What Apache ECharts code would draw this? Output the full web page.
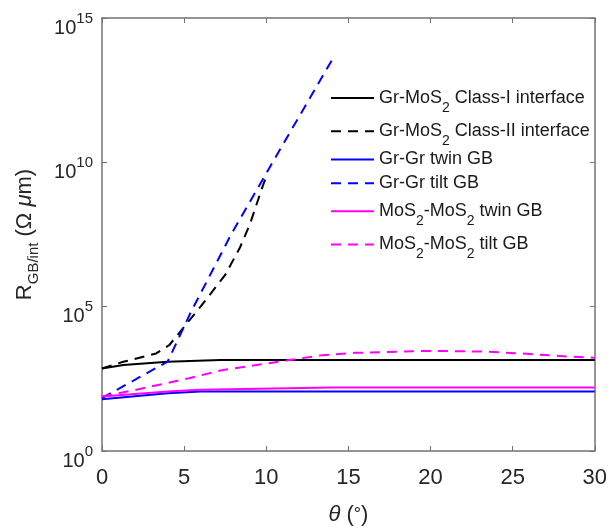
<!DOCTYPE html>
<html>
<head>
<meta charset="utf-8">
<script src="https://cdn.jsdelivr.net/npm/echarts@6/dist/echarts.min.js"></script>
<style>html,body{margin:0;background:#fff}#main{width:610px;height:531px}</style>
</head>
<body>
<div id="main"></div>
<script>
// angle (deg) and resistance (Ohm um)
const classIX = [0, 1.3, 4, 7.2, 30];
const classIY = [724, 955, 1230, 1410, 1410];
const classIIX = [0, 1.3, 3.3, 4.1, 6.0, 7.5, 8.4, 9.0, 9.8, 10];
const classIIY = [724, 1230, 2400, 4700, 1.0e5, 1.26e6, 1.12e7, 7.1e7, 1.6e9, 3.2e9];
const twinGrX = [0, 4, 6, 30];
const twinGrY = [62, 100, 115, 115];
const tiltGrX = [0, 4, 5.4, 7.9, 11.3, 14];
const tiltGrY = [68, 1260, 6.3e4, 3.5e7, 7.9e10, 3.5e13];
const twinMoX = [0, 4, 6, 14, 30];
const twinMoY = [78, 115, 132, 158, 158];
const tiltMoX = [0, 2, 5.3, 7.3, 9.4, 11.4, 13.4, 15.4, 19.4, 21.4, 23.5, 25.5, 28.5, 30];
const tiltMoY = [78, 129, 331, 631, 955, 1413, 2089, 2512, 2884, 2884, 2754, 2399, 1862, 1698];

const names = [
  "Gr-MoS2 Class-I interface",
  "Gr-MoS2 Class-II interface",
  "Gr-Gr twin GB",
  "Gr-Gr tilt GB",
  "MoS2-MoS2 twin GB",
  "MoS2-MoS2 tilt GB"
];
const legendText = [
  "{t|Gr-MoS}{s|2}{t| Class-I interface}",
  "{t|Gr-MoS}{s|2}{t| Class-II interface}",
  "{t|Gr-Gr twin GB}",
  "{t|Gr-Gr tilt GB}",
  "{t|MoS}{s|2}{t|-MoS}{s|2}{t| twin GB}",
  "{t|MoS}{s|2}{t|-MoS}{s|2}{t| tilt GB}"
];
const legendRowY = [100.7, 134, 162.3, 186, 214, 247.3];

const xs = [classIX, classIIX, twinGrX, tiltGrX, twinMoX, tiltMoX];
const ys = [classIY, classIIY, twinGrY, tiltGrY, twinMoY, tiltMoY];
const colors = ["#000000", "#000000", "#0000ff", "#0000ff", "#ff00ff", "#ff00ff"];
const dashed = [false, true, false, true, false, true];

const font = "Liberation Sans, Arial, Helvetica, sans-serif";
const axisColor = "#737373";
const textColor = "#262626";

const series = names.map((name, i) => ({
  name: name,
  type: "line",
  symbol: "none",
  lineStyle: { color: colors[i], width: 2, type: dashed[i] ? [10, 7] : "solid" },
  itemStyle: { color: colors[i] },
  data: xs[i].map((x, j) => [x, ys[i][j]])
}));

const legends = names.map((name, i) => ({
  data: [name],
  left: 330,
  top: legendRowY[i] - 14,
  padding: 0,
  itemWidth: 43,
  itemHeight: 28,
  itemStyle: { opacity: 0 },
  formatter: () => legendText[i],
  textStyle: {
    rich: {
      t: { fontFamily: font, fontSize: 18, lineHeight: 18, color: "#1a1a1a", verticalAlign: "top" },
      s: { fontFamily: font, fontSize: 14, lineHeight: 14, padding: [12, 0, 0, 0], color: "#1a1a1a", verticalAlign: "top" }
    }
  }
}));

const tickInside = { show: true, inside: true, length: 5, lineStyle: { color: axisColor, width: 1 } };
const lineAxis = { show: true, onZero: false, lineStyle: { color: axisColor, width: 1.5 } };

const options = {
  animation: false,
  backgroundColor: "#ffffff",
  grid: { left: 102, right: 12, top: 18, bottom: 78 },
  legend: legends,
  xAxis: [
    {
      type: "value",
      min: 0,
      max: 30,
      interval: 5,
      axisLine: lineAxis,
      axisTick: tickInside,
      splitLine: { show: false },
      axisLabel: { color: textColor, fontFamily: font, fontSize: 22, margin: 16 },
      name: "{i|θ} ({d|°})",
      nameLocation: "middle",
      nameGap: 53,
      nameTextStyle: {
        color: textColor,
        fontFamily: font,
        fontSize: 22,
        rich: {
          i: { fontFamily: font, fontSize: 22, fontStyle: "italic", color: textColor },
          d: { fontFamily: font, fontSize: 18, color: textColor }
        }
      }
    },
    {
      type: "value",
      position: "top",
      min: 0,
      max: 30,
      interval: 5,
      axisLine: lineAxis,
      axisTick: tickInside,
      axisLabel: { show: false },
      splitLine: { show: false }
    }
  ],
  yAxis: [
    {
      type: "log",
      logBase: 10,
      min: 1,
      max: 1e15,
      interval: 5,
      axisLine: lineAxis,
      axisTick: tickInside,
      minorTick: { show: false },
      splitLine: { show: false },
      axisLabel: {
        margin: 9,
        padding: [13, 0, 0, 0],
        formatter: (v) => "{b|10}{s|" + Math.round(Math.log10(v)) + "}",
        rich: {
          b: { fontFamily: font, fontSize: 20, lineHeight: 27, verticalAlign: "bottom", color: textColor },
          s: { fontFamily: font, fontSize: 15, lineHeight: 14, verticalAlign: "top", color: textColor }
        }
      },
      name: "{t|R}{s|GB/int}{t| (Ω }{i|μ}{t|m)}",
      nameLocation: "middle",
      nameRotate: 90,
      nameGap: 66,
      nameTextStyle: {
        rich: {
          t: { fontFamily: font, fontSize: 22, lineHeight: 22, color: textColor, verticalAlign: "top" },
          s: { fontFamily: font, fontSize: 15, lineHeight: 15, padding: [12, 0, 0, 0], color: textColor, verticalAlign: "top" },
          i: { fontFamily: font, fontSize: 22, lineHeight: 22, fontStyle: "italic", color: textColor, verticalAlign: "top" }
        }
      }
    },
    {
      type: "log",
      logBase: 10,
      position: "right",
      min: 1,
      max: 1e15,
      interval: 5,
      axisLine: lineAxis,
      axisTick: tickInside,
      axisLabel: { show: false },
      splitLine: { show: false }
    }
  ],
  series: series
};

var myChart = echarts.init(document.querySelector("#main"));
myChart.setOption(options);
</script>
</body>
</html>
